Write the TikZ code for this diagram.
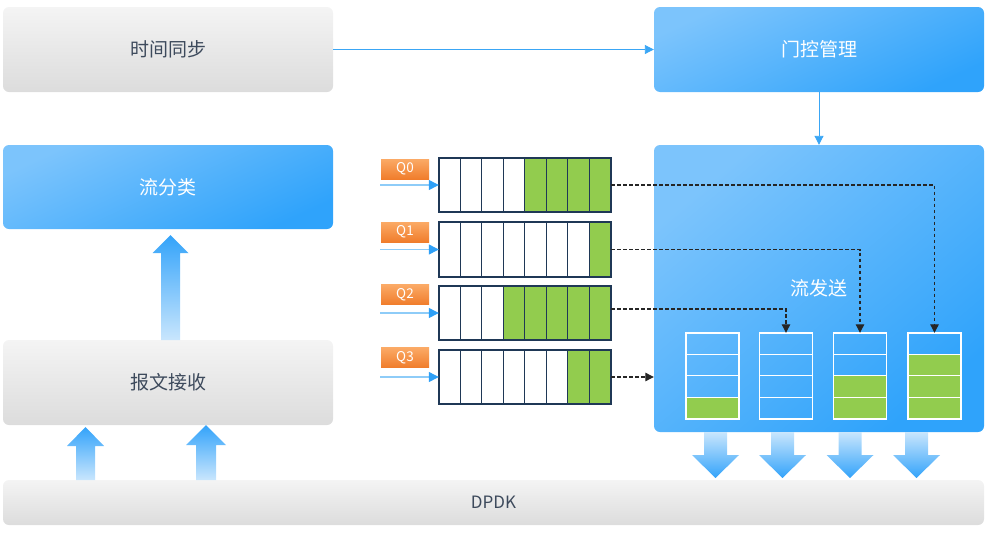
\documentclass[tikz,border=0pt]{standalone}
\usepackage{fontspec}
\setmainfont{Noto Sans CJK SC}
\usetikzlibrary{arrows.meta,calc}
\definecolor{txtgray}{HTML}{3D4A5C}
\definecolor{grayT}{HTML}{F4F4F4}
\definecolor{grayB}{HTML}{DCDCDC}
\definecolor{blueL}{HTML}{7CC4FC}
\definecolor{blueD}{HTML}{2FA3FB}
\definecolor{orT}{HTML}{FBAA66}
\definecolor{orB}{HTML}{F07D2C}
\definecolor{navy}{HTML}{1F3856}
\definecolor{cellgreen}{HTML}{92CC4E}
\definecolor{lineblue}{HTML}{3AA6F5}
\definecolor{lightline}{HTML}{8ECCF8}
\definecolor{tipblue}{HTML}{2EA0F7}
\definecolor{arrD}{HTML}{33A3FA}
\definecolor{arrL}{HTML}{C9E6FD}
\newcommand\queueq[3]{%
  \node[qcore] (#1) at (525,#2) {};
  \fill[cellgreen] ($(#1.north east)+(-#3*21.5,0)$) rectangle (#1.south east);
  \foreach \k in {1,...,7} \draw[navy, line width=1.3pt] ($(#1.north west)+(\k*21.5,0)$) -- ($(#1.south west)+(\k*21.5,0)$);
  \draw[navy, line width=1.8pt] (#1.north west) rectangle (#1.south east);
}
\newcommand\stackq[3]{%
  \node[scoreq] (#1) at (#2,376) {};
  \fill[cellgreen] ($(#1.south west)+(0,-#3*21.5)$) rectangle (#1.south east);
  \foreach \k in {1,2,3} \draw[white, line width=1.3pt] ($(#1.north west)+(0,\k*21.5)$) -- ($(#1.north east)+(0,\k*21.5)$);
  \draw[white, line width=1.5pt] (#1.north west) rectangle (#1.south east);
}
% x center, y tail, y tip, y head base, shaft half, head half
\newcommand\blockup[6]{%
  \shade[top color=arrD, bottom color=arrL] (#1-#5,#2) -- (#1-#5,#4) -- (#1-#6,#4) -- (#1,#3) -- (#1+#6,#4) -- (#1+#5,#4) -- (#1+#5,#2) -- cycle;}
\newcommand\blockdown[6]{%
  \shade[top color=arrL, bottom color=arrD] (#1-#5,#2) -- (#1-#5,#4) -- (#1-#6,#4) -- (#1,#3) -- (#1+#6,#4) -- (#1+#5,#4) -- (#1+#5,#2) -- cycle;}
\begin{document}
\begin{tikzpicture}[x=1pt,y=-1pt,
  graybox/.style={rounded corners=6pt, top color=grayT, bottom color=grayB, minimum width=330pt, minimum height=85pt, inner sep=0pt, text=txtgray, font=\fontsize{19}{21}\selectfont},
  bluebox/.style={rounded corners=6pt, top color=blueL, bottom color=blueD, shading angle=25, minimum width=330pt, minimum height=85pt, inner sep=0pt, text=white, font=\fontsize{19}{21}\selectfont},
  qlabel/.style={top color=orT, bottom color=orB, minimum width=48pt, minimum height=20pt, inner sep=0pt, text=white, font=\fontsize{13.5}{15}\selectfont},
  qcore/.style={minimum width=172pt, minimum height=54pt, inner sep=0pt, fill=white},
  scoreq/.style={minimum width=53pt, minimum height=86pt, inner sep=0pt},
  flow/.style={draw=lineblue, line width=0.9pt, -{Triangle[length=9pt,width=9pt]}},
  qin/.style={draw=lightline, line width=1.2pt, -{Triangle[length=10pt,width=10pt,color=tipblue]}},
  dashconn/.style={draw=black!85, line width=1.1pt, dash pattern=on 3.5pt off 2.5pt, -{Triangle[length=8.5pt,width=8.5pt]}},
]
\useasboundingbox (0,0) rectangle (988,536);
% main boxes
\node[graybox] (sync) at (168,49.5) {时间同步};
\node[bluebox] (gate) at (819,49.5) {门控管理};
\node[bluebox, minimum height=84pt] (cls) at (168,187) {流分类};
\node[graybox] (recv) at (168,382.5) {报文接收};
\node[graybox, minimum width=981pt, minimum height=45pt, font=\fontsize{17}{19}\selectfont] (dpdk) at (493.5,502.5) {DPDK};
\node[bluebox, minimum height=287pt, shading angle=40] (send) at (819,288.5) {流发送};
% flow arrows
\draw[flow] (sync.east) -- (gate.west);
\draw[flow] (gate.south) -- (send.north);
% block arrows
\blockup{170.5}{340}{235}{253}{9.5}{18}
\blockup{85.5}{480}{427}{446}{9.5}{18.5}
\blockup{206}{480}{425}{445}{10}{20}
\blockdown{715.5}{432}{478}{455}{11.5}{23.5}
\blockdown{782.5}{432}{478}{455}{11.5}{23.5}
\blockdown{850}{432}{478}{455}{11.5}{23.5}
\blockdown{916.5}{432}{478}{455}{11.5}{23.5}
% stacks
\stackq{s1}{712.5}{1}
\stackq{s2}{786}{0}
\stackq{s3}{860}{2}
\stackq{s4}{934.5}{3}
% queues
\queueq{q0}{185}{4}
\queueq{q1}{249.5}{1}
\queueq{q2}{313}{5}
\queueq{q3}{377}{2}
% queue labels
\node[qlabel] (l0) at (405,169) {Q0};
\node[qlabel] (l1) at (405,232) {Q1};
\node[qlabel] (l2) at (405,294.5) {Q2};
\node[qlabel] (l3) at (405,357.5) {Q3};
% input arrows
\coordinate (in0) at (380,185);
\coordinate (in1) at (380,249.5);
\coordinate (in2) at (380,313);
\coordinate (in3) at (380,377);
\draw[qin] (in0) -- (q0.west);
\draw[qin] (in1) -- (q1.west);
\draw[qin] (in2) -- (q2.west);
\draw[qin] (in3) -- (q3.west);
% dashed connectors
\draw[dashconn] (q0.east) -| (s4.north);
\draw[dashconn] (q1.east) -| (s3.north);
\draw[dashconn] ([yshift=4pt]q2.east) -| (s2.north);
\draw[dashconn] (q3.east) -- (send.west |- q3.east);
\end{tikzpicture}
\end{document}
